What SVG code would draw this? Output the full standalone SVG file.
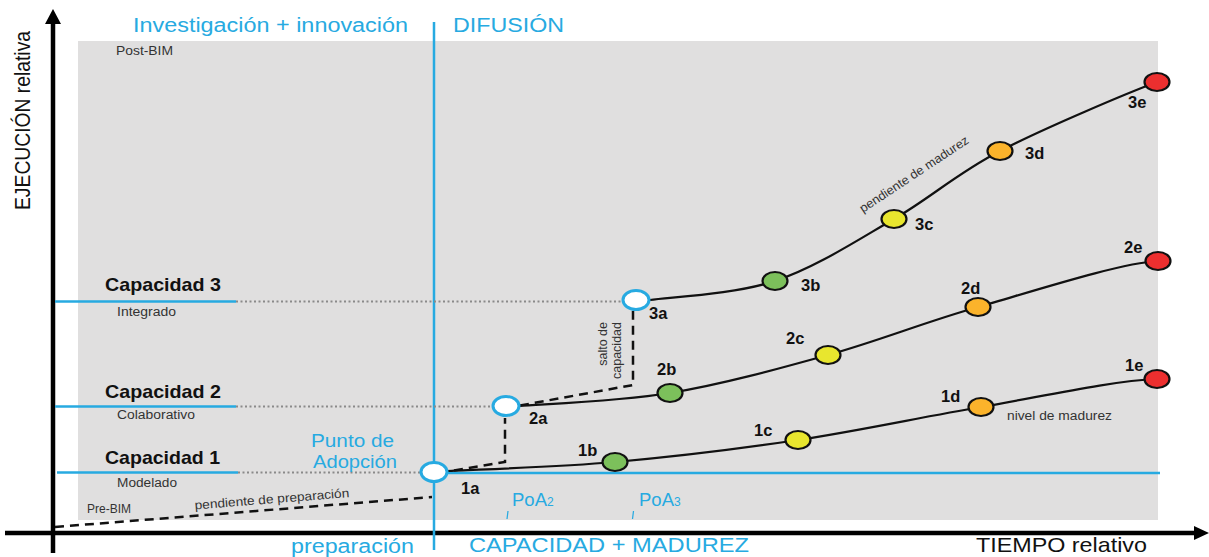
<svg xmlns="http://www.w3.org/2000/svg" width="1209" height="557" viewBox="0 0 1209 557">
<style>
.blue{fill:#27aae1;font-family:"Liberation Sans",Arial,sans-serif}
.cap{font-family:"Liberation Sans",Arial,sans-serif;font-weight:bold;font-size:19px;fill:#111}
.sm{font-family:"Liberation Sans",Arial,sans-serif;font-size:12.5px;fill:#333}
.lbl{font-family:"Liberation Sans",Arial,sans-serif;font-weight:bold;font-size:16.5px;fill:#111}
.node{stroke:#111;stroke-width:2.2}
.open{fill:#fff;stroke:#27aae1;stroke-width:3}
.curve{fill:none;stroke:#111;stroke-width:2.2}
.dash{fill:none;stroke:#111;stroke-width:2.5;stroke-dasharray:9 6}
.dot{stroke:#8a8a8a;stroke-width:2;stroke-dasharray:2 2.5}
.bl{stroke:#27aae1;stroke-width:2.5}
.g{fill:#7cc05b}.y{fill:#e8e62e}.o{fill:#fbb32b}.r{fill:#ec2f2f}
</style>
<rect width="1209" height="557" fill="#fff"/>
<rect x="78" y="41" width="1080" height="479" fill="#e0dfdf"/>

<!-- axes -->
<g id="axes">
<line x1="53" y1="553" x2="53" y2="22" stroke="#000" stroke-width="4.5"/>
<polygon points="53,9 45,24 61,24" fill="#000"/>
<line x1="5" y1="533" x2="1196" y2="533" stroke="#000" stroke-width="4.5"/>
<polygon points="1209,533 1194,526 1194,540" fill="#000"/>
<text transform="translate(29.5,210) rotate(-90)" font-family="Liberation Sans, Arial, sans-serif" font-size="22" fill="#111" textLength="179" lengthAdjust="spacingAndGlyphs">EJECUCIÓN relativa</text>
<text x="976" y="552" font-family="Liberation Sans, Arial, sans-serif" font-size="21" fill="#111" textLength="171" lengthAdjust="spacingAndGlyphs">TIEMPO relativo</text>
</g>

<!-- phase divider and labels -->
<g id="phases">
<line x1="434" y1="22" x2="434" y2="550" class="bl"/>
<text class="blue" x="133" y="32" font-size="20" textLength="275" lengthAdjust="spacingAndGlyphs">Investigación + innovación</text>
<text class="blue" x="453" y="32" font-size="20" textLength="111" lengthAdjust="spacingAndGlyphs">DIFUSIÓN</text>
<text class="blue" x="291" y="553" font-size="20" textLength="123" lengthAdjust="spacingAndGlyphs">preparación</text>
<text class="blue" x="469" y="552" font-size="20" textLength="280" lengthAdjust="spacingAndGlyphs">CAPACIDAD + MADUREZ</text>
<text class="sm" x="116" y="55" textLength="57" lengthAdjust="spacingAndGlyphs">Post-BIM</text>
<text class="sm" x="87" y="513" textLength="44" lengthAdjust="spacingAndGlyphs">Pre-BIM</text>
</g>

<!-- capacity levels -->
<g id="capacidad3">
<line x1="55" y1="301.5" x2="236" y2="301.5" class="bl"/>
<line x1="236" y1="301.5" x2="623" y2="301.5" class="dot"/>
<text class="cap" x="105" y="291" textLength="116" lengthAdjust="spacingAndGlyphs">Capacidad 3</text>
<text class="sm" x="117" y="316" textLength="59" lengthAdjust="spacingAndGlyphs">Integrado</text>
</g>
<g id="capacidad2">
<line x1="55" y1="406.5" x2="236" y2="406.5" class="bl"/>
<line x1="236" y1="406.5" x2="493" y2="406.5" class="dot"/>
<text class="cap" x="105" y="398" textLength="116" lengthAdjust="spacingAndGlyphs">Capacidad 2</text>
<text class="sm" x="117" y="419" textLength="78" lengthAdjust="spacingAndGlyphs">Colaborativo</text>
</g>
<g id="capacidad1">
<line x1="57" y1="472.5" x2="238" y2="472.5" class="bl"/>
<line x1="238" y1="472.5" x2="421" y2="472.5" class="dot"/>
<line x1="447" y1="473" x2="1160" y2="473" class="bl"/>
<text class="cap" x="105" y="464" textLength="115" lengthAdjust="spacingAndGlyphs">Capacidad 1</text>
<text class="sm" x="117" y="487" textLength="60" lengthAdjust="spacingAndGlyphs">Modelado</text>
</g>

<!-- connectors -->
<g id="connectors">
<path class="dash" d="M55,527 L432,497"/>
<path class="dash" d="M454,470.5 L505,462 L505,418"/>
<path class="dash" d="M520,405.5 L633,385 L633,311"/>
<path class="curve" d="M447,471 C475,469.5 556.5,467.2 615,462 C673.5,456.8 737,449.2 798,440 C859,430.8 921.2,417.2 981,407 C1040.8,396.8 1110,381 1157,379"/>
<path class="curve" d="M519,406 C544,404 618.5,401.5 670,393 C721.5,384.5 776.7,369.3 828,355 C879.3,340.7 923,322.7 978,307 C1033,291.3 1120,263 1158,261"/>
<path class="curve" d="M650,300 C671,297 734.3,294.5 775,281 C815.7,267.5 856.5,240.7 894,219 C931.5,197.3 956.2,173.8 1000,151 C1043.8,128.2 1130,92 1157,82"/>
</g>

<!-- annotations -->
<g id="annotations">
<text class="sm" transform="translate(195,509.5) rotate(-4.6)" font-size="13" textLength="155" lengthAdjust="spacingAndGlyphs">pendiente de preparación</text>
<text class="blue" x="311" y="447" font-size="18" textLength="83" lengthAdjust="spacingAndGlyphs">Punto de</text>
<text class="blue" x="313" y="468" font-size="18" textLength="84" lengthAdjust="spacingAndGlyphs">Adopción</text>
<text class="sm" transform="translate(606.5,322) rotate(-90)" text-anchor="end" font-size="13">salto de</text>
<text class="sm" transform="translate(621,322) rotate(-90)" text-anchor="end" font-size="13">capacidad</text>
<text class="sm" transform="translate(863,213) rotate(-33.5)" textLength="128" lengthAdjust="spacingAndGlyphs">pendiente de madurez</text>
<text class="sm" x="1007" y="420" textLength="105" lengthAdjust="spacingAndGlyphs">nivel de madurez</text>
<text class="blue" x="512" y="506" font-size="18.5">PoA<tspan font-size="12">2</tspan></text>
<text class="blue" x="639" y="506" font-size="18.5">PoA<tspan font-size="12">3</tspan></text>
<line x1="508" y1="511" x2="507" y2="519" stroke="#27aae1" stroke-width="1.3"/>
<line x1="633.5" y1="511" x2="632.5" y2="519" stroke="#27aae1" stroke-width="1.3"/>
</g>

<!-- nodes -->
<g id="n1a"><ellipse class="open" cx="434" cy="472" rx="13" ry="9.5"/><text class="lbl" x="461" y="494">1a</text></g>
<g id="n1b"><ellipse class="node g" cx="615" cy="462" rx="12.5" ry="9"/><text class="lbl" x="578" y="456">1b</text></g>
<g id="n1c"><ellipse class="node y" cx="798" cy="440" rx="12.5" ry="9"/><text class="lbl" x="754" y="436">1c</text></g>
<g id="n1d"><ellipse class="node o" cx="981" cy="407" rx="12.5" ry="9"/><text class="lbl" x="941" y="402">1d</text></g>
<g id="n1e"><ellipse class="node r" cx="1157" cy="379" rx="12.5" ry="9"/><text class="lbl" x="1125" y="371">1e</text></g>

<g id="n2a"><ellipse class="open" cx="506" cy="406" rx="13" ry="9.5"/><text class="lbl" x="529" y="424">2a</text></g>
<g id="n2b"><ellipse class="node g" cx="670" cy="393" rx="12.5" ry="9"/><text class="lbl" x="657" y="375">2b</text></g>
<g id="n2c"><ellipse class="node y" cx="828" cy="355" rx="12.5" ry="9"/><text class="lbl" x="786" y="344">2c</text></g>
<g id="n2d"><ellipse class="node o" cx="978" cy="307" rx="12.5" ry="9"/><text class="lbl" x="961" y="294">2d</text></g>
<g id="n2e"><ellipse class="node r" cx="1158" cy="261" rx="12.5" ry="9"/><text class="lbl" x="1124" y="253">2e</text></g>

<g id="n3a"><ellipse class="open" cx="636" cy="300" rx="13" ry="9.5"/><text class="lbl" x="649" y="319">3a</text></g>
<g id="n3b"><ellipse class="node g" cx="775" cy="281" rx="12.5" ry="9"/><text class="lbl" x="801" y="291">3b</text></g>
<g id="n3c"><ellipse class="node y" cx="894" cy="219" rx="12.5" ry="9"/><text class="lbl" x="915" y="230">3c</text></g>
<g id="n3d"><ellipse class="node o" cx="1000" cy="151" rx="12.5" ry="9"/><text class="lbl" x="1025" y="159">3d</text></g>
<g id="n3e"><ellipse class="node r" cx="1157" cy="82" rx="12.5" ry="9"/><text class="lbl" x="1128" y="108">3e</text></g>
</svg>
